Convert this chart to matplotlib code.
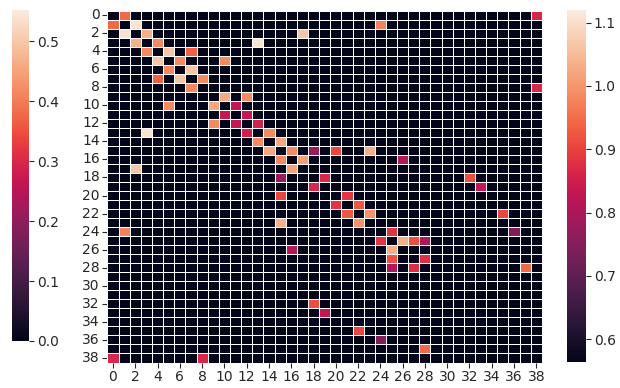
import numpy as np
import matplotlib
matplotlib.use("Agg")
import matplotlib.pyplot as plt
import seaborn as sns

n_nodes = 39
src = [0, 0, 1, 1, 2, 2, 3, 3, 4, 4, 5, 5, 6, 7, 8, 9, 9, 10, 11, 12,
       13, 14, 15, 15, 15, 15, 16, 16, 18, 18, 19, 20, 21, 22, 22, 24, 24,
       25, 25, 25, 27, 28]
dst = [1, 38, 2, 24, 3, 17, 4, 13, 5, 7, 6, 10, 7, 8, 38, 10, 12, 11, 12, 13,
       14, 15, 16, 18, 20, 23, 17, 26, 19, 32, 33, 21, 22, 23, 35, 25, 36,
       26, 27, 28, 28, 37]
weight = [0.38, 0.30, 0.54, 0.41, 0.47, 0.50, 0.42, 0.54, 0.50, 0.37, 0.42, 0.42,
          0.50, 0.42, 0.30, 0.46, 0.42, 0.27, 0.27, 0.29,
          0.42, 0.46, 0.42, 0.21, 0.34, 0.47, 0.45, 0.25, 0.30, 0.35, 0.27,
          0.32, 0.36, 0.43, 0.34, 0.32, 0.18, 0.47, 0.35, 0.24, 0.31, 0.38]
offset = 0.565

mat = np.zeros((n_nodes, n_nodes))
for s, d, w in zip(src, dst, weight):
    mat[s, d] = w
    mat[d, s] = w

sns.set_theme(style="ticks")
plt.rcParams["font.family"] = ["DejaVu Sans"]
plt.rcParams["text.color"] = "#262626"
plt.rcParams["xtick.color"] = "#262626"
plt.rcParams["ytick.color"] = "#262626"

fig = plt.figure(figsize=(6.2, 3.88), dpi=100)
W, H = 620, 388
ax = fig.add_axes([107.4 / W, 1 - 362.5 / H, 434.5 / W, 352 / H])
cax_l = fig.add_axes([12 / W, 1 - 341 / H, 17 / W, 331 / H])
cax_r = fig.add_axes([567 / W, 1 - 362 / H, 19 / W, 352 / H])

cmap = sns.color_palette("rocket", as_cmap=True)
sns.heatmap(mat, ax=ax, cmap=cmap, vmin=0, vmax=0.552, linewidths=0.6,
            linecolor="white", cbar_ax=cax_l, xticklabels=2, yticklabels=2)
sns.heatmap(mat + offset, mask=(mat == 0), ax=ax, cmap=cmap, vmin=0.564,
            vmax=1.12, linewidths=0.6, linecolor="white", cbar_ax=cax_r,
            xticklabels=2, yticklabels=2)

ticks = list(range(0, n_nodes, 2))
ax.set_xticks([t + 0.5 for t in ticks])
ax.set_xticklabels([str(t) for t in ticks], rotation=0, fontsize=10)
ax.set_yticks([t + 0.5 for t in ticks])
ax.set_yticklabels([str(t) for t in ticks], rotation=0, fontsize=10)
ax.tick_params(axis="both", length=3.5, width=0.8, pad=2, bottom=True, left=True)

for cax, tks in ((cax_l, [0.0, 0.1, 0.2, 0.3, 0.4, 0.5]),
                 (cax_r, [0.6, 0.7, 0.8, 0.9, 1.0, 1.1])):
    cax.set_yticks(tks)
    cax.set_yticklabels([f"{t:.1f}" for t in tks], fontsize=10)
    cax.tick_params(axis="y", length=3.5, width=0.8, pad=2, right=True,
                    labelright=True, left=False, labelleft=False)
    for sp in cax.spines.values():
        sp.set_visible(False)

fig.savefig("out.png", dpi=100)
